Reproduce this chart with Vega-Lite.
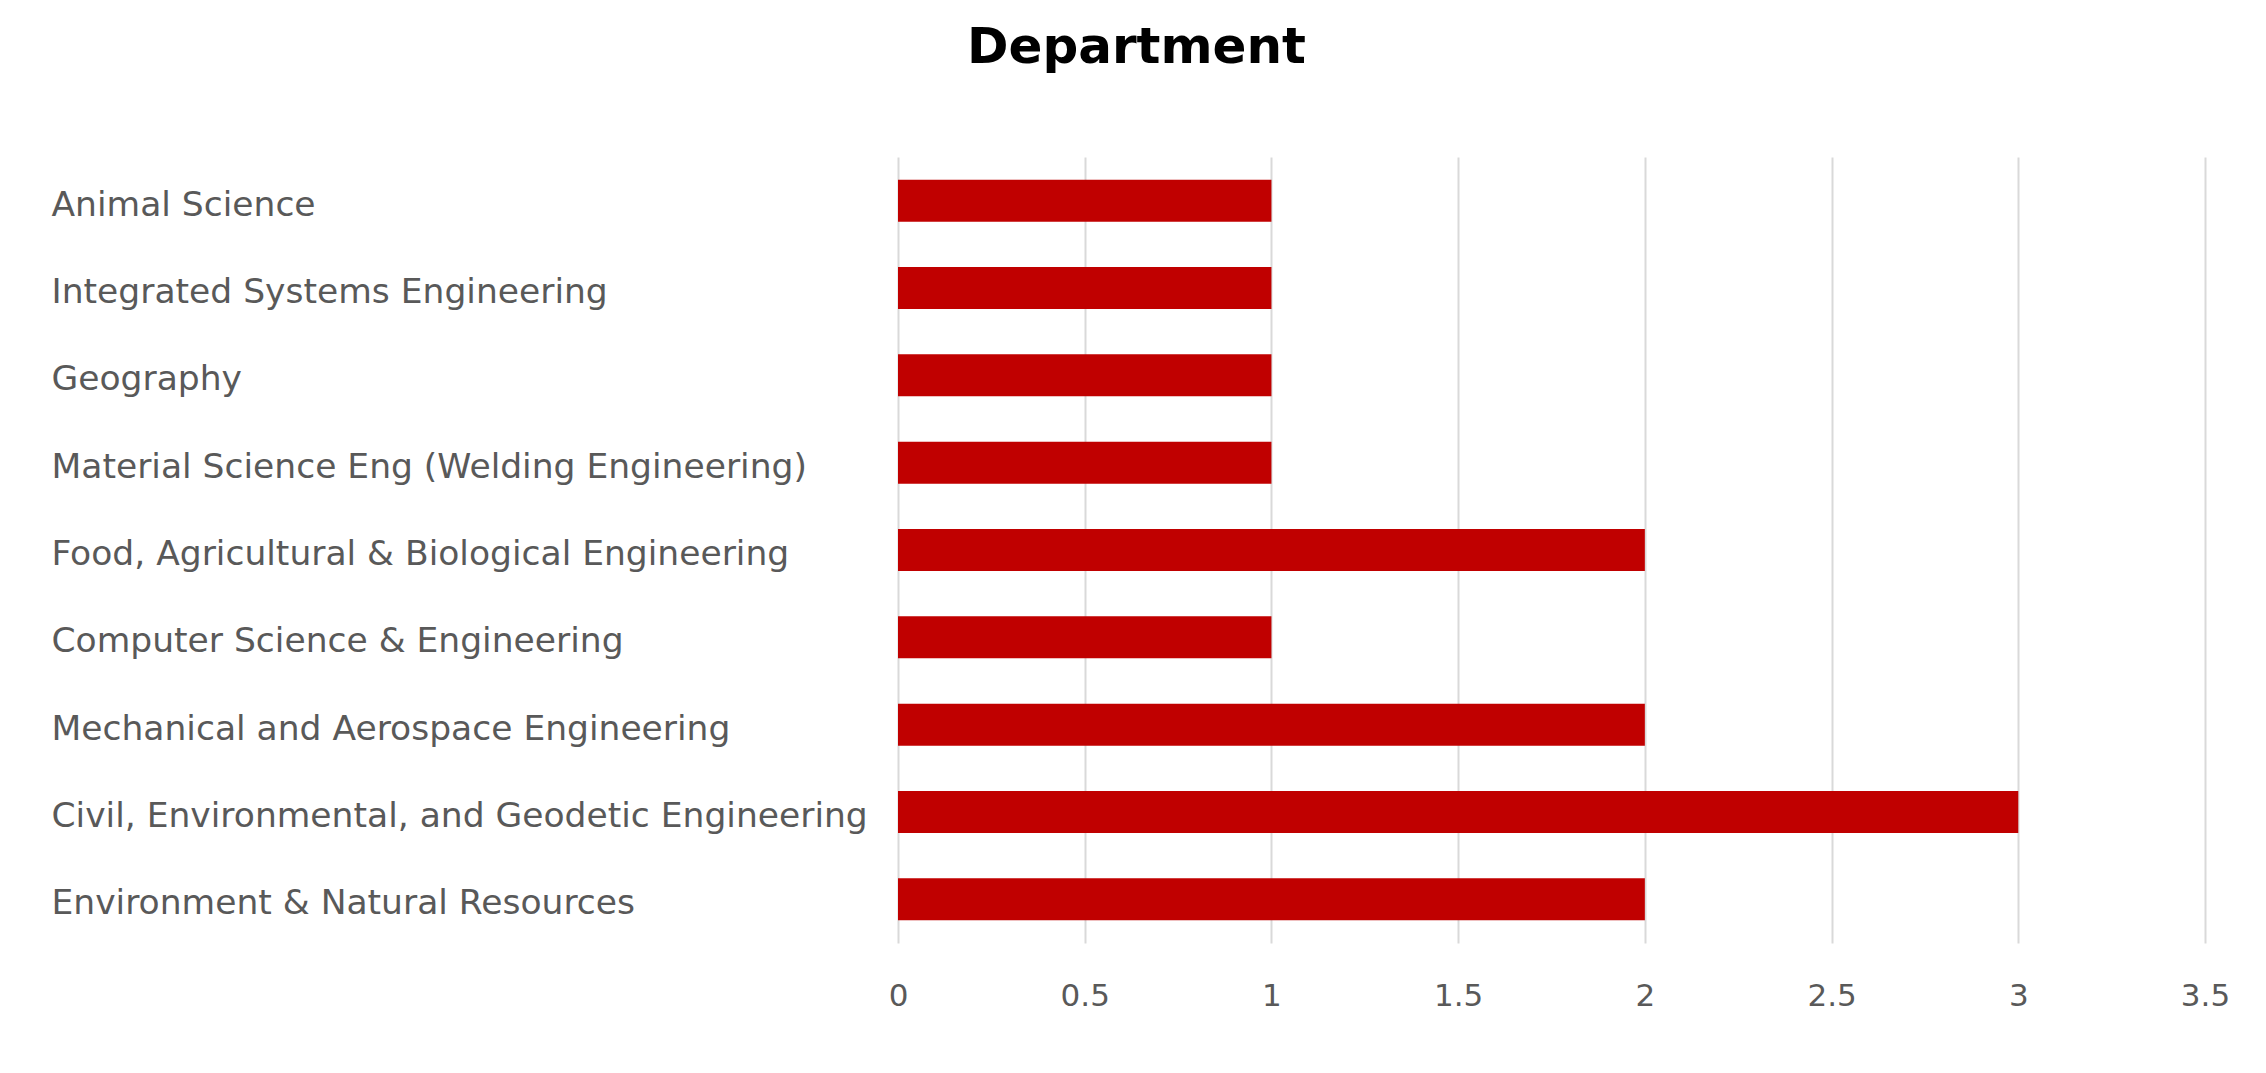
{
  "$schema": "https://vega.github.io/schema/vega-lite/v6.json",
  "autosize": {"type": "none"},
  "padding": {"left": 898, "top": 157, "right": 61, "bottom": 130},
  "width": 1307,
  "height": 786,
  "background": "white",
  "title": {
    "text": "Department",
    "font": "DejaVu Sans",
    "fontWeight": "bold",
    "fontSize": 50,
    "color": "#000000",
    "anchor": "middle",
    "frame": "group",
    "dx": -415,
    "baseline": "alphabetic",
    "offset": 44
  },
  "data": {
    "values": [
      {"department": "Animal Science", "count": 1},
      {"department": "Integrated Systems Engineering", "count": 1},
      {"department": "Geography", "count": 1},
      {"department": "Material Science Eng (Welding Engineering)", "count": 1},
      {"department": "Food, Agricultural & Biological Engineering", "count": 2},
      {"department": "Computer Science & Engineering", "count": 1},
      {"department": "Mechanical and Aerospace Engineering", "count": 2},
      {"department": "Civil, Environmental, and Geodetic Engineering", "count": 3},
      {"department": "Environment & Natural Resources", "count": 2}
    ]
  },
  "mark": {"type": "bar", "color": "#C00000"},
  "encoding": {
    "y": {
      "field": "department",
      "type": "nominal",
      "sort": null,
      "scale": {"paddingInner": 0.52, "paddingOuter": 0.26},
      "axis": {
        "title": null,
        "domain": false,
        "ticks": false,
        "tickSize": 0,
        "grid": false,
        "labelAlign": "left",
        "labelPadding": 847,
        "labelOffset": 5,
        "labelLimit": 1200,
        "labelFont": "DejaVu Sans",
        "labelFontSize": 34.5,
        "labelColor": "#595959"
      }
    },
    "x": {
      "field": "count",
      "type": "quantitative",
      "scale": {"domain": [0, 3.5], "nice": false},
      "axis": {
        "title": null,
        "values": [0, 0.5, 1, 1.5, 2, 2.5, 3, 3.5],
        "format": "~g",
        "domain": false,
        "ticks": false,
        "tickSize": 0,
        "grid": true,
        "gridColor": "#d9d9d9",
        "gridWidth": 2,
        "labelPadding": 38,
        "labelFont": "DejaVu Sans",
        "labelFontSize": 31,
        "labelColor": "#595959",
        "labelFlush": false
      }
    }
  },
  "config": {"view": {"stroke": null}}
}
